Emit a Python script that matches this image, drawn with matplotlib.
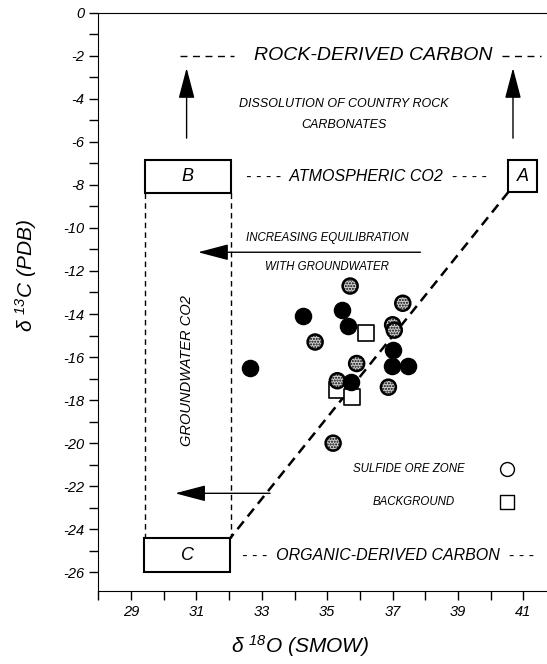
import matplotlib
matplotlib.use("Agg")
import matplotlib.pyplot as plt
from matplotlib.patches import Rectangle

plt.rcParams['font.family'] = ['Liberation Sans', 'DejaVu Sans']
plt.rcParams['font.style'] = 'italic'
plt.rcParams['axes.unicode_minus'] = False
plt.rcParams['mathtext.fontset'] = 'custom'
plt.rcParams['mathtext.rm'] = 'Liberation Sans:italic'
plt.rcParams['mathtext.it'] = 'Liberation Sans:italic'

# sulfide ore zone, solid circles
solid_x = [35.44, 34.25, 35.63, 32.64, 35.72, 37.02, 36.97, 37.48]
solid_y = [-13.8, -14.1, -14.55, -16.5, -17.15, -15.65, -16.4, -16.4]
# sulfide ore zone, stippled circles
stip_x = [35.70, 37.31, 34.63, 35.90, 35.31, 37.00, 37.05, 36.87, 35.18]
stip_y = [-12.7, -13.5, -15.3, -16.3, -17.1, -14.5, -14.75, -17.4, -20.0]
# background samples
bg_x = [36.18, 35.31, 35.75]
bg_y = [-14.87, -17.55, -17.87]

x_ticks = [29, 31, 33, 35, 37, 39, 41]
y_ticks = [0, -2, -4, -6, -8, -10, -12, -14, -16, -18, -20, -22, -24, -26]

fig = plt.figure(figsize=(5.47, 6.64), dpi=100)
ax = fig.add_axes([0.1797, 0.1099, 0.8203, 0.871])
ax.set_xlim(28, 41.72)
ax.set_ylim(-26.87, 0)

ax.spines['right'].set_visible(False)
ax.set_xticks(x_ticks)
ax.set_xticklabels([str(v) for v in x_ticks], fontstyle='italic')
ax.set_xticks(range(28, 42), minor=True)
ax.set_yticks(y_ticks)
ax.set_yticklabels([str(v) for v in y_ticks], fontstyle='italic')
ax.set_yticks(range(-26, 0), minor=True)
ax.tick_params(which='both', direction='out', length=6.5, width=1, labelsize=10.5)

ax.set_xlabel('δ $^{18}$O (SMOW)', fontsize=15)
ax.set_ylabel('δ $^{13}$C (PDB)', fontsize=15)
ax.xaxis.set_label_coords(0.45, -0.072)
ax.yaxis.set_label_coords(-0.132, 0.546)

# boxes A, B, C
boxes = {'B': (29.42, -8.4, 2.63, 1.55), 'A': (40.54, -8.33, 0.87, 1.48),
         'C': (29.4, -26.0, 2.63, 1.58)}
for name, (bx, by, bw, bh) in boxes.items():
    ax.add_patch(Rectangle((bx, by), bw, bh, fill=True, fc='white', ec='black', lw=1.5, zorder=3))
    ax.text(bx + bw / 2, by + bh / 2, name, fontsize=13, ha='center', va='center', zorder=4)

# groundwater CO2 column
ax.plot([29.42, 29.42], [-8.4, -24.42], ls=(0, (4, 3)), color='black', lw=1)
ax.plot([32.05, 32.05], [-8.4, -24.42], ls=(0, (4, 3)), color='black', lw=1)
ax.text(30.72, -16.65, 'GROUNDWATER CO2', rotation=90, fontsize=10.5, ha='center', va='center')

# diagonal A -> C
ax.plot([40.54, 32.03], [-8.33, -24.42], ls=(0, (4, 2.5)), color='black', lw=1.8)

# rock-derived carbon
ax.text(36.4, -2.0, 'ROCK-DERIVED CARBON', fontsize=14, ha='center', va='center')
ax.plot([30.5, 32.15], [-2, -2], ls=(0, (5, 4)), color='black', lw=1)
ax.plot([40.35, 41.55], [-2, -2], ls=(0, (5, 4)), color='black', lw=1)
ax.text(35.5, -4.24, 'DISSOLUTION OF COUNTRY ROCK', fontsize=9, ha='center', va='center')
ax.text(35.5, -5.22, 'CARBONATES', fontsize=9, ha='center', va='center')

arrow = dict(arrowstyle='-|>,head_length=1.9,head_width=0.5', color='black', lw=1,
             mutation_scale=10, shrinkA=0, shrinkB=0)
ax.annotate('', xy=(30.7, -2.57), xytext=(30.7, -5.83), arrowprops=arrow)
ax.annotate('', xy=(40.68, -2.57), xytext=(40.68, -5.83), arrowprops=arrow)

ax.text(36.2, -7.6, '- - - -  ATMOSPHERIC CO2  - - - -', fontsize=11.5, ha='center', va='center')
ax.text(36.87, -25.2, '- - -  ORGANIC-DERIVED CARBON  - - -', fontsize=11.5, ha='center', va='center')

# equilibration arrows
ax.annotate('', xy=(31.05, -11.13), xytext=(37.85, -11.13), arrowprops=arrow)
ax.annotate('', xy=(30.35, -22.33), xytext=(33.25, -22.33), arrowprops=arrow)
ax.text(35.0, -10.45, 'INCREASING EQUILIBRATION', fontsize=8.3, ha='center', va='center')
ax.text(35.0, -11.8, 'WITH GROUNDWATER', fontsize=8.3, ha='center', va='center')

# data
ax.scatter(bg_x, bg_y, marker='s', s=117, fc='white', ec='black', lw=1.2, zorder=5)
ax.scatter(stip_x, stip_y, marker='o', s=117, fc='#d0d0d0', ec='black', lw=1.8,
           hatch='......', zorder=6)
ax.scatter(solid_x, solid_y, marker='o', s=135, fc='black', ec='black', zorder=7)

# legend
ax.text(39.2, -21.2, 'SULFIDE ORE ZONE', fontsize=8.3, ha='right', va='center')
ax.text(38.9, -22.75, 'BACKGROUND', fontsize=8.3, ha='right', va='center')
ax.scatter([40.5], [-21.2], marker='o', s=100, fc='white', ec='black', lw=1, zorder=5)
ax.scatter([40.5], [-22.75], marker='s', s=100, fc='white', ec='black', lw=1, zorder=5)

fig.savefig('out.png', dpi=100)
